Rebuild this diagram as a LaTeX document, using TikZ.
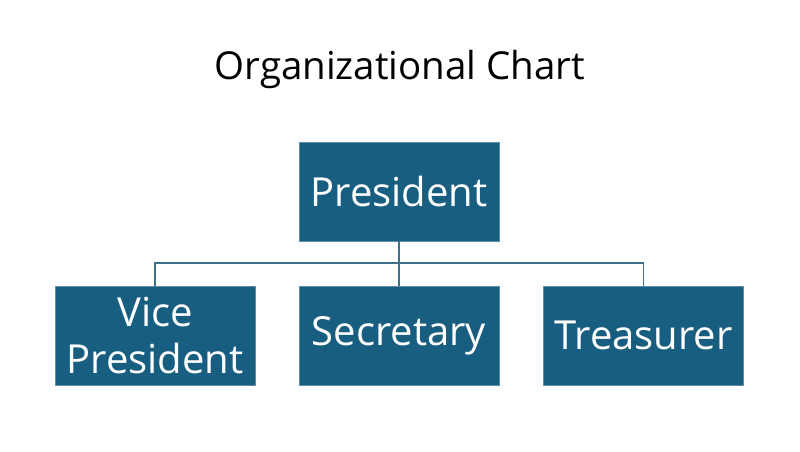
\documentclass[tikz,border=0pt]{standalone}
\usepackage{fontspec}
\setmainfont{Open Sans}
\definecolor{boxblue}{RGB}{24,94,128}
\definecolor{lineblue}{RGB}{62,112,138}
\begin{document}
\begin{tikzpicture}[x=1pt,y=-1pt,
  orgbox/.style={fill=boxblue,draw=boxblue!70!white,line width=0.6pt,minimum width=200pt,minimum height=99pt,inner sep=0pt,text=white,font=\fontsize{40}{47}\selectfont,align=center},
  link/.style={draw=lineblue,line width=1.4pt}]
\useasboundingbox (0,0) rectangle (800,452);
\node[font=\fontsize{38.5}{44}\selectfont] (title) at (400,69) {Organizational Chart};
\node[orgbox] (pres) at (399,191.5) {President};
\node[orgbox] (vp) at (155,335.5) {Vice\\President};
\node[orgbox] (sec) at (399,335.5) {Secretary};
\node[orgbox] (tre) at (643.5,335.5) {Treasurer};
\coordinate (bus) at (399,263);
\draw[link] (pres.south) -- (sec.north);
\draw[link] (vp.north) |- (bus) -| (tre.north);
\end{tikzpicture}
\end{document}
